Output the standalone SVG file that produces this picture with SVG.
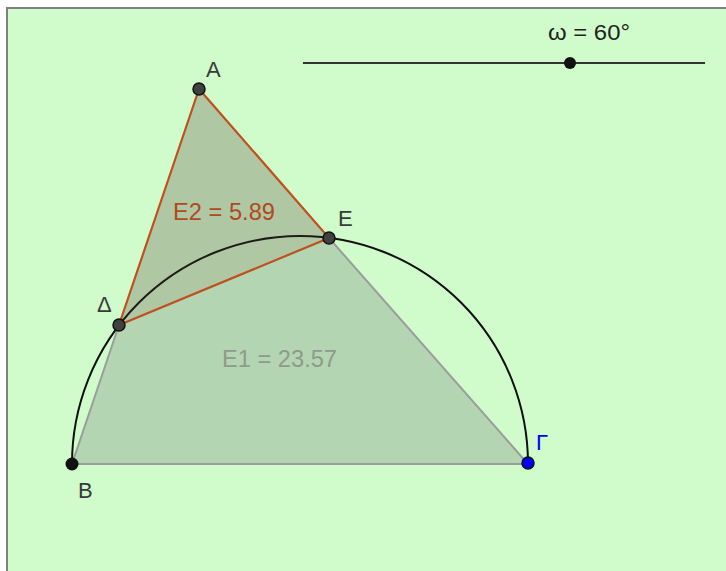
<svg xmlns="http://www.w3.org/2000/svg" width="726" height="571" viewBox="0 0 726 571">
  <style>
    .lbl { font-family: "Liberation Sans", Arial, sans-serif; font-size: 22px; fill: #3a3a3a; }
    .val { font-family: "Liberation Sans", Arial, sans-serif; font-size: 23px; }
    .pt { fill: #404040; stroke: #111; stroke-width: 1.5; }
    .edge-big { stroke: #9c9c9c; stroke-width: 2; fill: none; }
    .edge-small { stroke: #c0501e; stroke-width: 2.2; fill: none; }
  </style>
  <rect x="0" y="0" width="726" height="571" fill="#ffffff"/>
  <rect x="7" y="8" width="719" height="563" fill="#d0fccc"/>
  <path d="M7 571 V8 H726" fill="none" stroke="#808080" stroke-width="2"/>

  <g id="slider">
    <line x1="303" y1="63" x2="705" y2="63" stroke="#333" stroke-width="2.2"/>
    <circle cx="570" cy="63" r="6" fill="#111"/>
    <text class="lbl" x="548" y="40" textLength="82" lengthAdjust="spacingAndGlyphs" style="fill:#222">ω = 60°</text>
  </g>

  <g id="triangle-ABG">
    <polygon points="199,89 72,464 528,464" fill="#606060" fill-opacity="0.25"/>
    <polyline class="edge-big" points="119,325 72,464 528,464 329,238"/>
    <text class="val" x="222" y="367" textLength="115" lengthAdjust="spacingAndGlyphs" fill="#8e9a8c">E1 = 23.57</text>
  </g>

  <g id="arc">
    <path d="M72 464 A228 228 0 0 1 528 464" fill="none" stroke="#111" stroke-width="2"/>
  </g>

  <g id="triangle-ADE">
    <polygon points="199,89 119,325 329,238" fill="#8a6a40" fill-opacity="0.12"/>
    <polygon class="edge-small" points="199,89 119,325 329,238"/>
    <text class="val" x="173" y="220" textLength="102" lengthAdjust="spacingAndGlyphs" fill="#b04a1e">E2 = 5.89</text>
  </g>

  <g id="A">
    <circle class="pt" cx="199" cy="89" r="6"/>
    <text class="lbl" x="206" y="77">A</text>
  </g>
  <g id="E">
    <circle class="pt" cx="329" cy="238" r="6"/>
    <text class="lbl" x="338" y="226">E</text>
  </g>
  <g id="Delta">
    <circle class="pt" cx="119" cy="325" r="6"/>
    <text class="lbl" x="97" y="312">Δ</text>
  </g>
  <g id="B">
    <circle cx="72" cy="464" r="6.5" fill="#111"/>
    <text class="lbl" x="78" y="498">B</text>
  </g>
  <g id="Gamma">
    <circle cx="528" cy="463" r="6" fill="#0000ff" stroke="#111" stroke-width="1.5"/>
    <text class="lbl" x="536" y="450" style="fill:#0000ff">Γ</text>
  </g>
</svg>
